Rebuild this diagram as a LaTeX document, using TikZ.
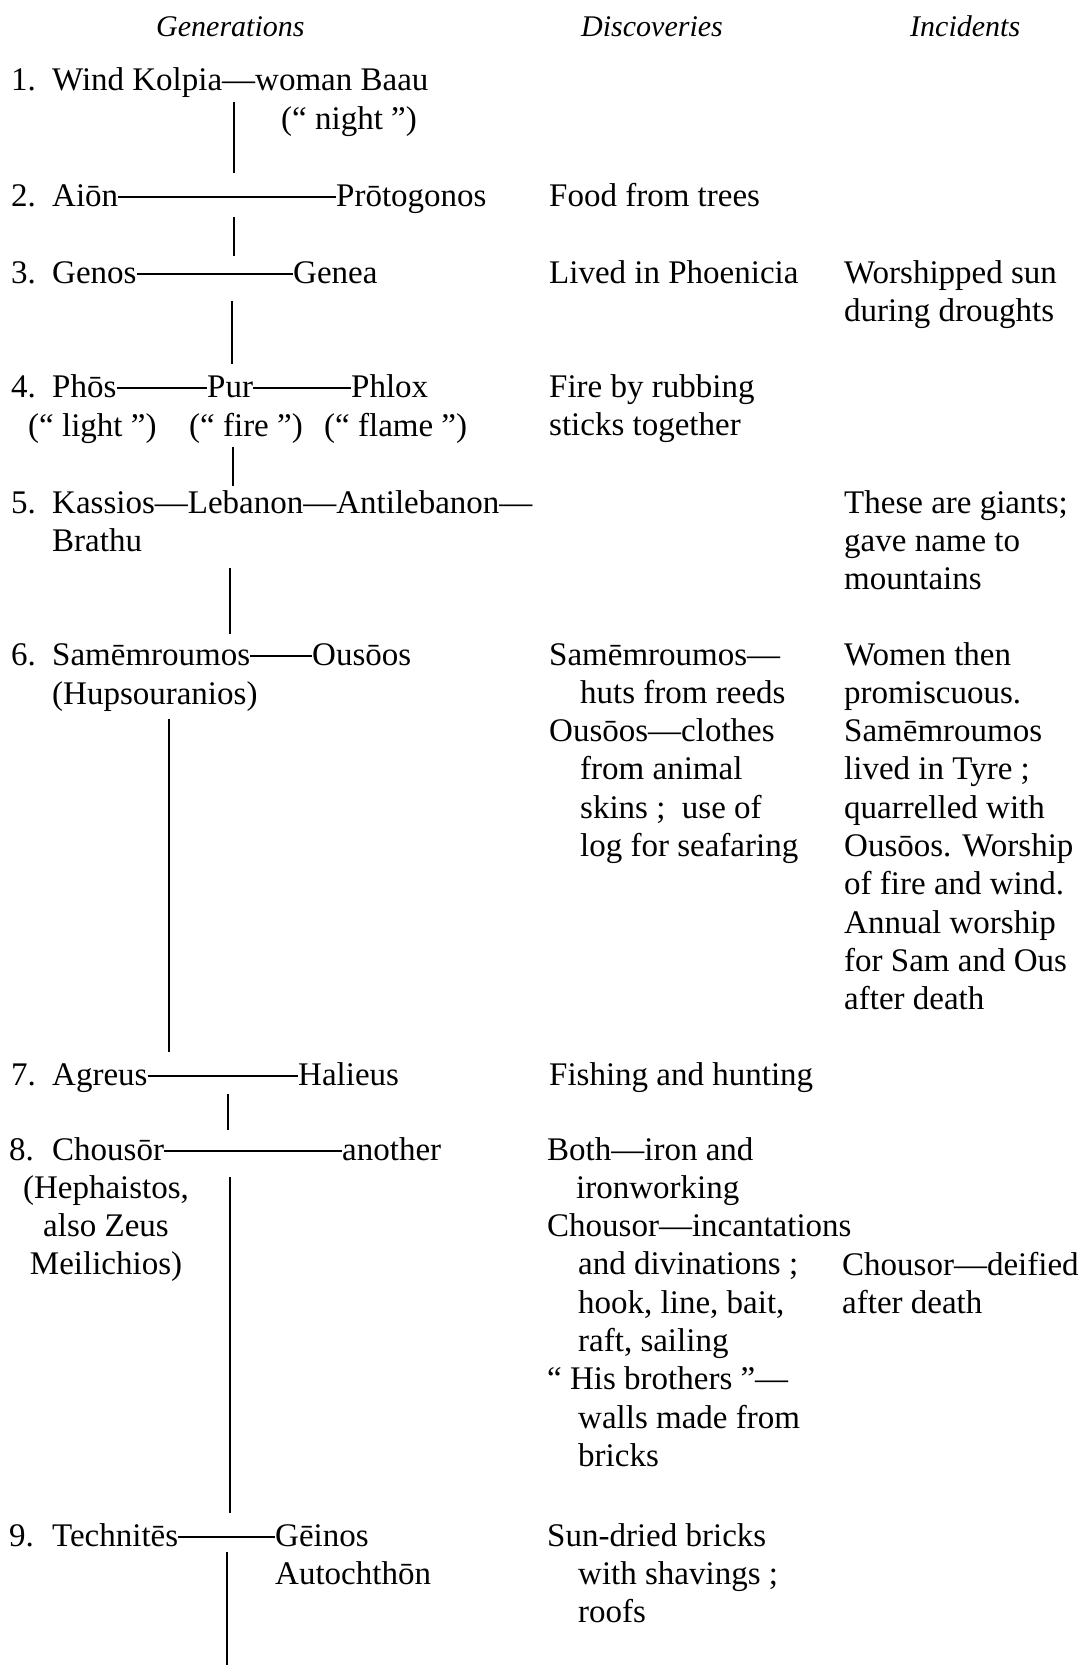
\documentclass[tikz,border=0pt]{standalone}
\usepackage{fontspec}
\setmainfont{Liberation Serif}
\newcommand{\stk}[1]{\begin{tabular}[t]{@{}l@{}}#1\end{tabular}}
\newcommand{\stkc}[1]{\begin{tabular}[t]{@{}c@{}}#1\end{tabular}}
\newcommand{\ind}{\hspace*{31pt}}
\begin{document}
\begin{tikzpicture}[x=1pt,y=1pt]
\tikzset{txt/.style={inner sep=0pt, anchor=base west, font=\fontsize{33}{38.3}\selectfont},
  hdr/.style={inner sep=0pt, anchor=base west, font=\fontsize{30}{36}\selectfont\itshape},
  ln/.style={line width=1.4pt}}
\useasboundingbox (0,0) rectangle (1084,-1665);
% headings
\node[hdr] (hgen) at (156,-36) {Generations};
\node[hdr] (hdis) at (581,-36) {Discoveries};
\node[hdr] (hinc) at (910,-36) {Incidents};
% generations
\node[txt] (n1) at (11,-90) {1.};
\node[txt] (g1) at (52,-90) {Wind Kolpia—woman Baau};
\node[txt] (g1x) at (281,-129) {(“ night ”)};
\node[txt] (n2) at (11,-206) {2.};
\node[txt] (g2a) at (52,-206) {Aiōn};
\node[txt] (g2b) at (336,-206) {Prōtogonos};
\node[txt] (n3) at (11,-283) {3.};
\node[txt] (g3a) at (52,-283) {Genos};
\node[txt] (g3b) at (293,-283) {Genea};
\node[txt] (n4) at (11,-397) {4.};
\node[txt] (g4a) at (52,-397) {Phōs};
\node[txt] (g4b) at (207,-397) {Pur};
\node[txt] (g4c) at (351,-397) {Phlox};
\node[txt] (g4x) at (28,-436) {(“ light ”)};
\node[txt] (g4y) at (189,-436) {(“ fire ”)};
\node[txt] (g4z) at (324,-436) {(“ flame ”)};
\node[txt] (n5) at (11,-513) {5.};
\node[txt] (g5) at (52,-513) {\stk{Kassios—Lebanon—Antilebanon—\\Brathu}};
\node[txt] (n6) at (11,-665) {6.};
\node[txt] (g6a) at (52,-665) {Samēmroumos};
\node[txt] (g6b) at (312,-665) {Ousōos};
\node[txt] (g6x) at (52,-704) {(Hupsouranios)};
\node[txt] (n7) at (11,-1085) {7.};
\node[txt] (g7a) at (52,-1085) {Agreus};
\node[txt] (g7b) at (298,-1085) {Halieus};
\node[txt] (n8) at (9,-1160) {8.};
\node[txt] (g8a) at (52,-1160) {Chousōr};
\node[txt] (g8b) at (342,-1160) {another};
\node[txt, anchor=base] (g8x) at (106,-1198) {\stkc{(Hephaistos,\\also Zeus\\Meilichios)}};
\node[txt] (n9) at (9,-1546) {9.};
\node[txt] (g9a) at (52,-1546) {Technitēs};
\node[txt] (g9b) at (275,-1546) {\stk{Gēinos\\Autochthōn}};
% marriages
\draw[ln] ([yshift=9pt]g2a.base east) -- ([yshift=9pt]g2b.base west);
\draw[ln] ([yshift=9pt]g3a.base east) -- ([yshift=9pt]g3b.base west);
\draw[ln] ([yshift=9pt]g4a.base east) -- ([yshift=9pt]g4b.base west);
\draw[ln] ([yshift=9pt]g4b.base east) -- ([yshift=9pt]g4c.base west);
\draw[ln] ([yshift=9pt]g6a.base east) -- ([yshift=9pt]g6b.base west);
\draw[ln] ([yshift=9pt]g7a.base east) -- ([yshift=9pt]g7b.base west);
\draw[ln] ([yshift=9pt]g8a.base east) -- ([yshift=9pt]g8b.base west);
\draw[ln] ([yshift=9pt]g9a.base east) -- ([yshift=9pt]g9b.base west);
% descent
\coordinate (d1a) at (234,-102); \coordinate (d1b) at (234,-173);
\coordinate (d2a) at (234,-217); \coordinate (d2b) at (234,-256);
\coordinate (d3a) at (232,-301); \coordinate (d3b) at (232,-364);
\coordinate (d4a) at (233,-447); \coordinate (d4b) at (233,-486);
\coordinate (d5a) at (230,-568); \coordinate (d5b) at (230,-634);
\coordinate (d6a) at (169,-719); \coordinate (d6b) at (169,-1052);
\coordinate (d7a) at (228,-1094); \coordinate (d7b) at (228,-1130);
\coordinate (d8a) at (230,-1177); \coordinate (d8b) at (230,-1513);
\coordinate (d9a) at (227,-1552); \coordinate (d9b) at (227,-1665);
\draw[ln] (d1a) -- (d1b);
\draw[ln] (d2a) -- (d2b);
\draw[ln] (d3a) -- (d3b);
\draw[ln] (d4a) -- (d4b);
\draw[ln] (d5a) -- (d5b);
\draw[ln] (d6a) -- (d6b);
\draw[ln] (d7a) -- (d7b);
\draw[ln] (d8a) -- (d8b);
\draw[ln] (d9a) -- (d9b);
% discoveries
\node[txt] (f2) at (549,-206) {Food from trees};
\node[txt] (f3) at (549,-283) {Lived in Phoenicia};
\node[txt] (f4) at (549,-397) {\stk{Fire by rubbing\\sticks together}};
\node[txt] (f6) at (549,-665) {\stk{Samēmroumos—\\\ind huts from reeds\\Ousōos—clothes\\\ind from animal\\\ind skins ;\ \ use of\\\ind log for seafaring}};
\node[txt] (f7) at (549,-1085) {Fishing and hunting};
\node[txt] (f8) at (547,-1160) {\stk{Both—iron and\\\hspace*{29pt}ironworking\\Chousor—incantations\\\ind and divinations ;\\\ind hook, line, bait,\\\ind raft, sailing\\“ His brothers ”—\\\ind walls made from\\\ind bricks}};
\node[txt] (f9) at (547,-1546) {\stk{Sun-dried bricks\\\ind with shavings ;\\\ind roofs}};
% incidents
\node[txt] (i3) at (844,-283) {\stk{Worshipped sun\\during droughts}};
\node[txt] (i5) at (844,-513) {\stk{These are giants;\\gave name to\\mountains}};
\node[txt] (i6) at (844,-665) {\stk{Women then\\promiscuous.\\Samēmroumos\\lived in Tyre ;\\quarrelled with\\Ousōos. Worship\\of fire and wind.\\Annual worship\\for Sam and Ous\\after death}};
\node[txt] (i8) at (842,-1275) {\stk{Chousor—deified\\after death}};
\end{tikzpicture}
\end{document}
